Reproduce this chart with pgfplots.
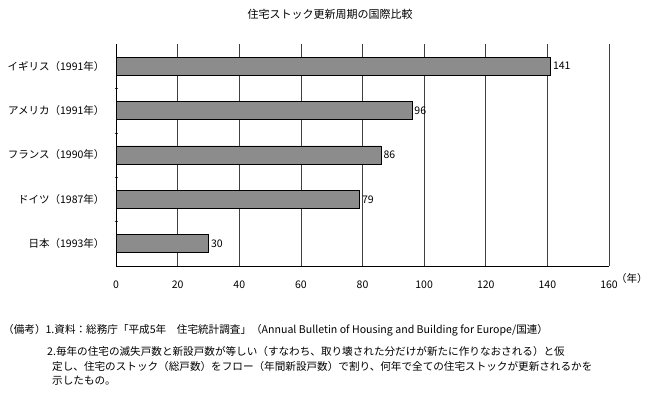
\documentclass[border=0pt]{standalone}
\usepackage{fontspec}
\setmainfont{Noto Sans CJK JP}
\usepackage{pgfplots}
\pgfplotsset{compat=1.18}
\begin{document}
\begin{tikzpicture}
\useasboundingbox (0pt,0pt) rectangle (650pt,393pt);
\node[font=\fontsize{11}{13}\selectfont] at (330pt,379pt) {住宅ストック更新周期の国際比較};
\begin{axis}[at={(116pt,127pt)}, anchor=south west, scale only axis,
  width=493pt, height=222pt,
  xbar, bar width=18pt,
  xmin=0, xmax=160, ymin=-0.5, ymax=4.5,
  xtick={0,20,...,160},
  xmajorgrids, major grid style={black!75, line width=0.6pt},
  ytick={0,1,2,3,4},
  yticklabels={日本（1993年）,ドイツ（1987年）,フランス（1990年）,アメリカ（1991年）,イギリス（1991年）},
  major tick length=0pt,
  minor ytick={0.5,1.5,2.5,3.5}, minor tick length=3pt,
  y tick style={xshift=1.5pt},
  minor tick style={black!75},
  axis lines*=left, axis line style={-, black, line width=0.6pt},
  xticklabel style={yshift=-11pt},
  yticklabel style={xshift=-8pt},
  tick label style={font=\fontsize{10.5}{12}\selectfont},
  /pgf/number format/assume math mode=true,
  nodes near coords,
  nodes near coords align=horizontal,
  every node near coord/.append style={font=\fontsize{10.5}{12}\selectfont, xshift=-1pt},
  clip=false,
]
\addplot[fill=black!45, draw=black, line width=0.6pt] coordinates {
  (30,0) (79,1) (86,2) (96,3) (141,4)};
\end{axis}
\node[anchor=west, inner sep=0pt, font=\fontsize{10.5}{12}\selectfont] at (616pt,114pt) {（年）};
\begin{scope}[every node/.style={anchor=west, font=\fontsize{10.6}{12}\selectfont, inner sep=0pt}]
\node at (3pt,63pt) {（備考）1.資料：総務庁「平成5年　住宅統計調査」（Annual Bulletin of Housing and Building for Europe/国連）};
\node at (47pt,42pt) {2.毎年の住宅の滅失戸数と新設戸数が等しい（すなわち、取り壊された分だけが新たに作りなおされる）と仮};
\node at (52pt,27pt) {定し、住宅のストック（総戸数）をフロー（年間新設戸数）で割り、何年で全ての住宅ストックが更新されるかを};
\node at (52pt,12pt) {示したもの。};
\end{scope}
\end{tikzpicture}
\end{document}
